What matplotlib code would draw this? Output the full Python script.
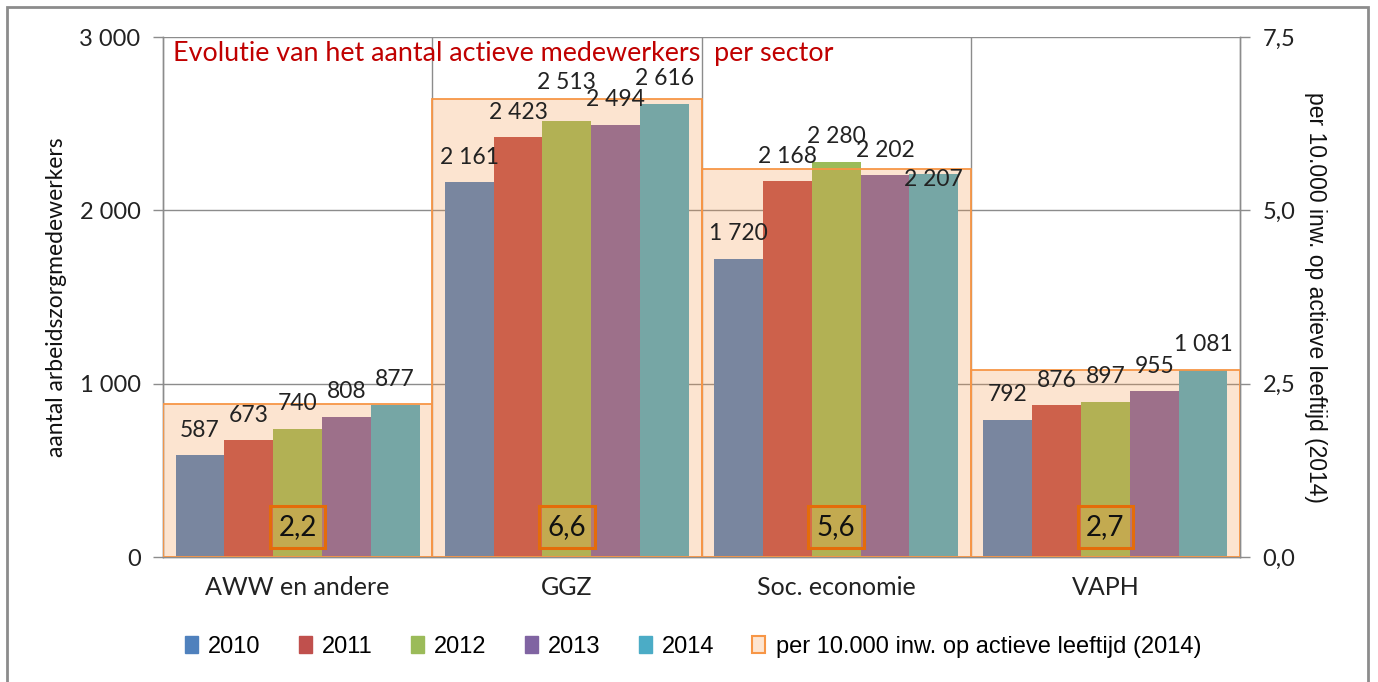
import matplotlib
matplotlib.use("Agg")
import matplotlib.pyplot as plt
from matplotlib.patches import Rectangle, Patch
from matplotlib.ticker import FuncFormatter, FixedLocator
import numpy as np

plt.rcParams['font.family'] = ['Lato', 'DejaVu Sans']

categories = ["AWW en andere", "GGZ", "Soc. economie", "VAPH"]
years = ["2010", "2011", "2012", "2013", "2014"]
v2010 = [587, 2161, 1720, 792]
v2011 = [673, 2423, 2168, 876]
v2012 = [740, 2513, 2280, 897]
v2013 = [808, 2494, 2202, 955]
v2014 = [877, 2616, 2207, 1081]
per10000 = [2.2, 6.6, 5.6, 2.7]
per10000_labels = ["2,2", "6,6", "5,6", "2,7"]
series = [v2010, v2011, v2012, v2013, v2014]
colors = ["#4F81BD", "#C0504D", "#9BBB59", "#8064A2", "#4BACC6"]
orange = "#F79646"
overlay = (0xF7 / 255, 0x96 / 255, 0x46 / 255, 0.25)

W, H = 1378, 682
fig = plt.figure(figsize=(W / 100, H / 100), dpi=100)
L, R, T, B = 163, 1240, 37, 557
ax = fig.add_axes([L / W, 1 - B / H, (R - L) / W, (B - T) / H])
ax2 = ax.twinx()

x = np.arange(len(categories))
w = 0.1812
for i, (vals, c) in enumerate(zip(series, colors)):
    ax.bar(x + (i - 2) * w, vals, width=w, color=c, zorder=2)

ax.set_xlim(-0.5, 3.5)
ax.set_ylim(0, 3000)
ax2.set_ylim(0, 7.5)

# gridlines
ax.set_axisbelow(True)
ax.yaxis.set_major_locator(FixedLocator([0, 1000, 2000, 3000]))
ax.grid(axis='y', color='#8C8C8C', linewidth=1.0, zorder=0)
for xb in [0.5, 1.5, 2.5]:
    ax.axvline(xb, color='#8C8C8C', linewidth=1.0, zorder=0)

grey = '#8C8C8C'
for a in (ax, ax2):
    a.spines['top'].set_visible(False)
    for s in ('left', 'right', 'bottom'):
        a.spines[s].set_color(grey)
        a.spines[s].set_linewidth(1.0)

ax.yaxis.set_major_formatter(FuncFormatter(lambda v, p: f"{int(v):,}".replace(",", " ")))
ax.tick_params(axis='y', direction='out', length=7.2, width=1, color=grey,
               labelsize=17, pad=9, labelcolor='#222222')
ax.set_xticks(x)
ax.set_xticklabels(categories)
ax.tick_params(axis='x', length=0, labelsize=18, pad=14, labelcolor='#222222')

ax2.yaxis.set_major_locator(FixedLocator([0, 2.5, 5.0, 7.5]))
ax2.yaxis.set_major_formatter(FuncFormatter(lambda v, p: f"{v:.1f}".replace(".", ",")))
ax2.tick_params(axis='y', direction='out', length=7.2, width=1, color=grey,
                labelsize=17, pad=9, labelcolor='#222222')

# overlay boxes (secondary axis)
ax2.bar(x, per10000, width=1.0, facecolor=overlay, edgecolor=orange, linewidth=1.3, zorder=3)

# data labels (drawn on the top axes so the overlay does not tint them)
extra = {(1, 2): 14, (2, 4): -30}
for i, vals in enumerate(series):
    for j, v in enumerate(vals):
        off = 25 + extra.get((j, i), 0)
        ax2.annotate(f"{v:,}".replace(",", " "), (x[j] + (i - 2) * w, v),
                     xycoords=ax.transData,
                     xytext=(0, off), textcoords='offset pixels',
                     ha='center', va='center', fontsize=16.5, color='#222222', zorder=5)

# per 10.000 labels
for j, lab in enumerate(per10000_labels):
    ax2.text(x[j], 0.0577 * 7.5, lab, ha='center', va='center',
             fontsize=20, color='#111111', zorder=6,
             bbox=dict(boxstyle='square,pad=0.3', facecolor=overlay,
                       edgecolor='#E46C0A', linewidth=2.2))

# axis labels
ax.set_ylabel("aantal arbeidszorgmedewerkers", fontsize=16.5, color='#111111')
ax.yaxis.set_label_coords((67 - L) / (R - L), 0.5)
ax2.set_ylabel("per 10.000 inw. op actieve leeftijd (2014)", rotation=270,
               fontsize=16.5, color='#111111',
               family=['Liberation Sans Narrow', 'Liberation Sans', 'DejaVu Sans'])
ax2.yaxis.set_label_coords((1327 - L) / (R - L), 0.5)

# title
fig.text(173 / W, 1 - 61 / H, "Evolutie van het aantal actieve medewerkers  per sector",
         color='#C00000', fontsize=19.4, ha='left', va='baseline')

# legend
handles = [Patch(facecolor=c, edgecolor=c) for c in colors]
handles.append(Patch(facecolor=(0xFD / 255, 0xE5 / 255, 0xD1 / 255), edgecolor=orange, linewidth=1.5))
labels = years + ["per 10.000 inw. op actieve leeftijd (2014)"]
fig.legend(handles, labels, loc='center', bbox_to_anchor=(0.503, 1 - 647 / H), ncol=6,
           frameon=False, handlelength=0.55, handleheight=0.75,
           handletextpad=0.45, columnspacing=1.6,
           prop={'family': ['Liberation Sans Narrow', 'Liberation Sans', 'DejaVu Sans'], 'size': 17})

# chart border
fig.patches.append(Rectangle((7 / W, -0.05), (1368 - 7) / W, 1 - 7 / H + 0.05,
                             transform=fig.transFigure, fill=False,
                             edgecolor='#8C8C8C', linewidth=2))

fig.savefig("out.png", dpi=100)
